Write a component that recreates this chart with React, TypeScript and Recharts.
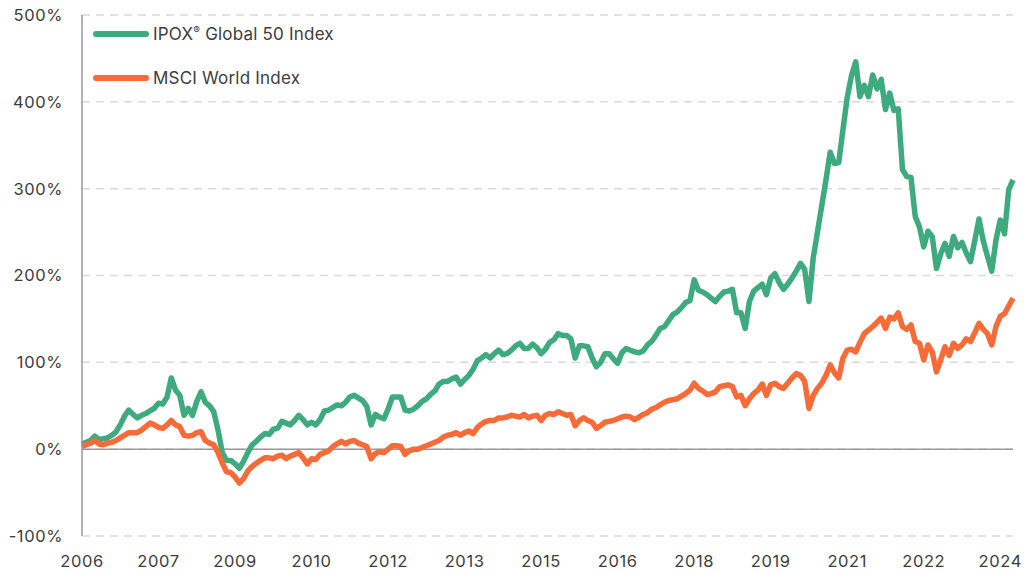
import { LineChart, Line, XAxis, YAxis, CartesianGrid, ReferenceLine } from 'recharts';

// monthly cumulative return (%), Jan 2006 onwards
const ipox = [
  6, 8, 10, 15, 11, 12, 13, 16, 20, 28,
  38, 45, 40, 36, 39, 41, 44, 47, 53, 52,
  60, 82, 68, 62, 39, 47, 39, 55, 66, 54,
  50, 43, 22, -4, -13, -13, -17, -22, -14, -4,
  5, 9, 14, 18, 17, 23, 24, 32, 30, 28,
  33, 39, 34, 28, 31, 28, 34, 44, 45, 48,
  51, 50, 54, 60, 62, 59, 56, 49, 28, 40,
  37, 35, 46, 60, 60, 60, 45, 44, 46, 50,
  55, 58, 63, 67, 75, 78, 78, 81, 83, 75,
  80, 85, 92, 102, 105, 109, 105, 110, 114, 109,
  110, 114, 119, 122, 116, 116, 121, 117, 110, 115,
  123, 126, 133, 131, 131, 127, 105, 119, 119, 118,
  105, 95, 100, 110, 110, 104, 99, 111, 116, 114,
  112, 111, 113, 120, 124, 131, 139, 141, 148, 155,
  158, 163, 169, 171, 195, 183, 181, 178, 174, 170,
  176, 181, 182, 184, 157, 157, 139, 170, 182, 186,
  190, 178, 197, 202, 192, 184, 190, 197, 205, 214,
  207, 170, 220, 250, 280, 310, 342, 329, 330, 368,
  405, 430, 446, 406, 419, 406, 431, 415, 426, 391,
  410, 390, 392, 322, 314, 313, 268, 256, 233, 251,
  245, 208, 225, 237, 222, 245, 232, 238, 226, 216,
  240, 265, 240, 222, 205, 241, 264, 248, 299, 310,
];

const msci = [
  3, 5, 7, 10, 6, 5, 7, 8, 10, 13,
  16, 19, 19, 19, 22, 26, 30, 28, 25, 24,
  28, 33, 28, 26, 16, 15, 16, 19, 20, 10,
  7, 5, -4, -16, -26, -27, -32, -39, -34, -25,
  -20, -16, -13, -10, -10, -11, -8, -7, -11, -8,
  -6, -4, -10, -17, -11, -12, -6, -4, -2, 3,
  6, 9, 6, 9, 10, 7, 5, 3, -11, -5,
  -3, -4, 0, 4, 4, 3, -6, -2, 0, 0,
  2, 4, 6, 8, 10, 14, 16, 17, 19, 16,
  19, 21, 18, 25, 29, 32, 33, 33, 36, 36,
  37, 39, 38, 37, 40, 36, 38, 39, 33, 39,
  41, 40, 43, 41, 39, 40, 27, 33, 36, 33,
  31, 24, 27, 31, 32, 33, 35, 37, 38, 37,
  34, 37, 40, 42, 46, 48, 51, 54, 56, 57,
  58, 61, 64, 68, 76, 70, 67, 63, 64, 66,
  72, 73, 74, 72, 60, 62, 50, 58, 64, 68,
  75, 62, 74, 76, 72, 70, 76, 82, 87, 85,
  78, 47, 62, 70, 76, 85, 97, 88, 82, 105,
  114, 115, 112, 123, 133, 137, 141, 146, 151, 139,
  152, 150, 157, 141, 138, 143, 124, 122, 103, 120,
  112, 89, 103, 118, 108, 122, 116, 120, 127, 124,
  134, 145, 138, 133, 120, 141, 153, 156, 165, 174,
];

const startYear = 2006;
const months = ipox.map((_, i) => `${startYear + Math.floor(i / 12)}-${String((i % 12) + 1).padStart(2, '0')}`);
const yTicks = [-100, 0, 100, 200, 300, 400, 500];

const series = [
  { key: 'ipox', name: 'IPOX', mark: '®', rest: ' Global 50 Index', color: '#3dab7d' },
  { key: 'msci', name: 'MSCI World Index', mark: '', rest: '', color: '#f76b39' },
];

const data = months.map((m, i) => ({ month: m, ipox: ipox[i], msci: msci[i] }));

const font = 'Inter, sans-serif';
const tick = { fill: '#3d3d3d', fontSize: 16.5, fontFamily: font, letterSpacing: 0.6 };

export default function App() {
  return (
    <div style={{ position: 'absolute', left: 0, top: 0, width: 1026, height: 571, background: '#fff' }}>
      <LineChart width={1026} height={571} data={data} margin={{ top: 15, right: 13, left: 0, bottom: 0 }}>
        <CartesianGrid vertical={false} stroke="#d9d9d9" strokeWidth={1.5} strokeDasharray="8 6" />
        <XAxis
          dataKey="month"
          interval={17}
          axisLine={false}
          tickLine={false}
          tickSize={6}
          tickMargin={13}
          height={35}
          tick={tick}
          tickFormatter={(v: string) => v.slice(0, 4)}
        />
        <YAxis
          domain={[-100, 500]}
          ticks={yTicks}
          width={82}
          axisLine={{ stroke: '#999', strokeWidth: 1.5 }}
          tickLine={false}
          tickSize={6}
          tickMargin={13}
          tick={tick}
          tickFormatter={(v: number) => `${v}%`}
        />
        <ReferenceLine y={0} stroke="#999" strokeWidth={1.5} />
        {series.map(s => (
          <Line
            key={s.key}
            type="linear"
            dataKey={s.key}
            name={s.name + s.mark + s.rest}
            stroke={s.color}
            strokeWidth={5.5}
            strokeLinejoin="round"
            dot={false}
            isAnimationActive={false}
          />
        ))}
      </LineChart>
      {series.map((s, i) => (
        <div
          key={s.key}
          style={{
            position: 'absolute', left: 93, top: 22 + i * 44, height: 24,
            display: 'flex', alignItems: 'center', fontFamily: font, fontSize: 17, color: '#3d3d3d',
            letterSpacing: 0.2,
          }}
        >
          <span style={{ display: 'inline-block', width: 56, height: 5.5, borderRadius: 3, background: s.color, marginRight: 4 }} />
          <span>
            {s.name}
            {s.mark && <sup style={{ fontSize: 10, verticalAlign: 6 }}>{s.mark}</sup>}
            {s.rest}
          </span>
        </div>
      ))}
    </div>
  );
}
